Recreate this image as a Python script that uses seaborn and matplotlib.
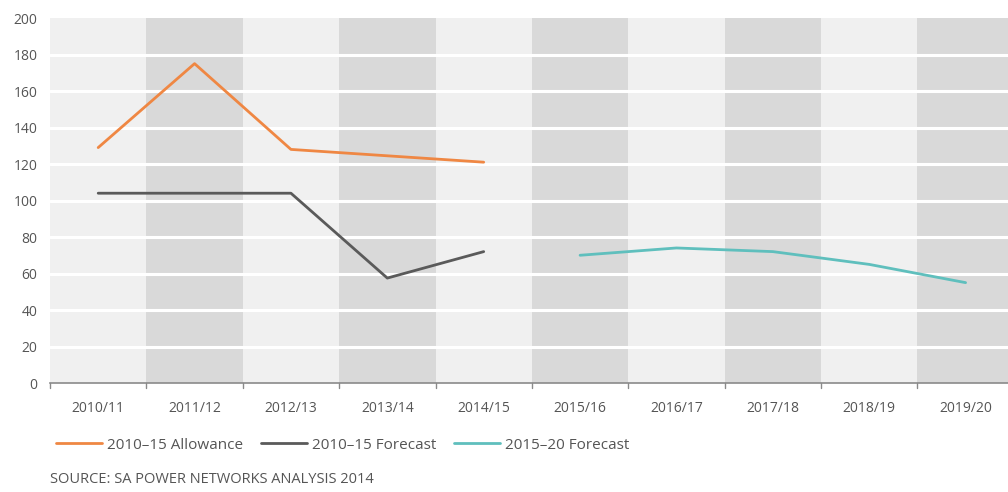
import numpy as np
import pandas as pd
import matplotlib
matplotlib.use("Agg")
import matplotlib.pyplot as plt
import seaborn as sns

years = ["2010/11", "2011/12", "2012/13", "2013/14", "2014/15",
         "2015/16", "2016/17", "2017/18", "2018/19", "2019/20"]
allowance_2010_15 = [129, 175, 128, 124.5, 121]
forecast_2010_15 = [104, 104, 104, 57.5, 72]
forecast_2015_20 = [70, 74, 72, 65, 55]

series_names = ["2010\u201315 Allowance", "2010\u201315 Forecast", "2015\u201320 Forecast"]
colors = ["#ef8743", "#5a5a5a", "#5fbfbd"]

rows = []
for i, v in enumerate(allowance_2010_15):
    rows.append({"year": years[i], "pos": i, "value": v, "series": series_names[0]})
for i, v in enumerate(forecast_2010_15):
    rows.append({"year": years[i], "pos": i, "value": v, "series": series_names[1]})
for i, v in enumerate(forecast_2015_20):
    rows.append({"year": years[i + 5], "pos": i + 5, "value": v, "series": series_names[2]})
df = pd.DataFrame(rows)

sns.set_theme(style="white")
plt.rcParams["font.family"] = ["Open Sans", "DejaVu Sans"]

fig = plt.figure(figsize=(10.08, 4.92), dpi=100)
ax = fig.add_axes([0.0496, 0.2215, 0.9504, 0.7419])

# alternating column shading
for i in range(len(years)):
    ax.axvspan(i - 0.5, i + 0.5, color="#f0f0f0" if i % 2 == 0 else "#d9d9d9",
               zorder=0, lw=0)
for y in range(20, 200, 20):
    ax.axhline(y, color="white", lw=2.2, zorder=1)

sns.lineplot(data=df, x="pos", y="value", hue="series", hue_order=series_names,
             palette=colors, linewidth=2, ax=ax, legend=False, zorder=3)

ax.set_xlim(-0.5, len(years) - 0.5 - 0.06)
ax.set_ylim(0, 200)
ax.set_xticks(range(len(years)))
ax.set_xticklabels(years)
ax.set_yticks(range(0, 201, 20))
ax.set_xlabel("")
ax.set_ylabel("")
for s in ["top", "right", "left"]:
    ax.spines[s].set_visible(False)
ax.spines["bottom"].set_color("#8a8a8a")
ax.spines["bottom"].set_linewidth(1.2)
ax.tick_params(axis="both", labelsize=10, colors="#555555", length=0)
ax.tick_params(axis="y", pad=9)
ax.tick_params(axis="x", pad=13)
for b in np.arange(-0.5, len(years), 1.0):
    ax.plot([b, b], [0, -2.5], color="#8a8a8a", lw=1, clip_on=False, zorder=4)

handles = [plt.Line2D([], [], color=c, lw=2) for c in colors]
fig.legend(handles, series_names, loc="lower left", bbox_to_anchor=(0.042, 0.052),
           ncol=3, frameon=False, fontsize=11, handlelength=3.0, handletextpad=0.35,
           columnspacing=1.15, labelcolor="#555555")
fig.text(0.05, 0.018, "SOURCE: SA POWER NETWORKS ANALYSIS 2014", fontsize=10.5,
         color="#555555")

fig.savefig("out.png", dpi=100)
